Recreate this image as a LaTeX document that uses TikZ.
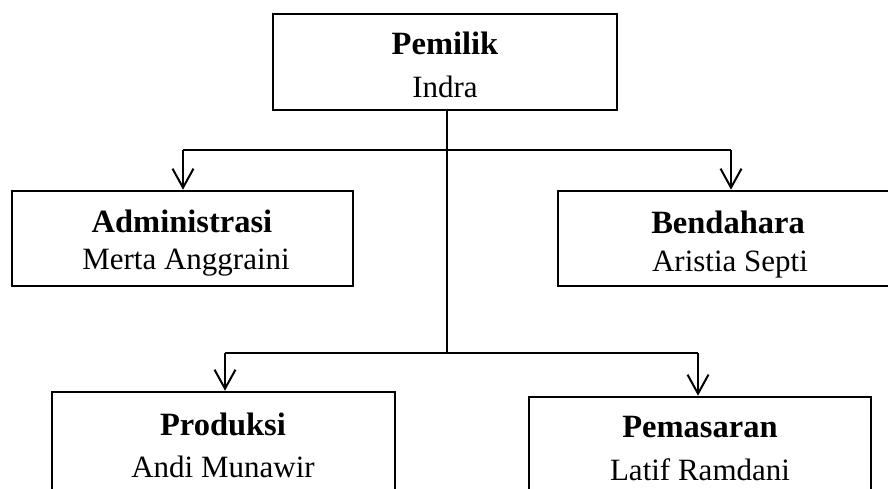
\documentclass[tikz,border=0pt]{standalone}
\usepackage{fontspec}
\setmainfont{Liberation Serif}
\usetikzlibrary{arrows.meta}
\tikzset{
  orgbox/.style={draw=black, line width=2.6pt, fill=none, inner sep=0pt},
  title/.style={anchor=base, font=\fontsize{32.5}{38}\selectfont\bfseries, inner sep=0pt},
  person/.style={anchor=base, font=\fontsize{31}{37}\selectfont, inner sep=0pt},
  conn/.style={draw=black, line width=2pt},
  arr/.style={conn, -{Straight Barb[length=19pt,width=21pt,line width=2pt]}}
}
\begin{document}
\begin{tikzpicture}[x=1pt,y=-1pt]
\useasboundingbox (0,0) rectangle (888,488);
\clip (0,0) rectangle (888,488);
% boxes
\node[orgbox, minimum width=344pt, minimum height=96pt] (own) at (445,62) {};
\node[orgbox, minimum width=341pt, minimum height=95pt] (adm) at (182.5,238.5) {};
\node[orgbox, minimum width=344pt, minimum height=95pt] (ben) at (730,238.5) {};
\node[orgbox, minimum width=343pt, minimum height=160pt] (pro) at (223.5,472) {};
\node[orgbox, minimum width=342pt, minimum height=160pt] (pem) at (700,477) {};
% texts
\node[title] (ownT) at (445,54) {Pemilik};
\node[person] (ownN) at (445,97) {Indra};
\node[title] (admT) at (182,232) {Administrasi};
\node[person] (admN) at (186,269) {Merta Anggraini};
\node[title] (benT) at (728,233) {Bendahara};
\node[person] (benN) at (730,271) {Aristia Septi};
\node[title] (proT) at (223,435) {Produksi};
\node[person] (proN) at (223,477) {Andi Munawir};
\node[title] (pemT) at (700,437) {Pemasaran};
\node[person] (pemN) at (700,480) {Latif Ramdani};
% junctions
\coordinate (top) at (447,110);
\coordinate (j1) at (447,150);
\coordinate (j2) at (447,353);
\coordinate (l1) at (183,150);
\coordinate (r1) at (731,150);
\coordinate (l2) at (225,353);
\coordinate (r2) at (698,353);
% connectors
\draw[conn] (top) -- (j2);
\draw[conn] (l1) -- (r1);
\draw[conn] (l2) -- (r2);
\draw[arr] (l1) -- (l1 |- adm.north);
\draw[arr] (r1) -- (r1 |- ben.north);
\draw[arr] (l2) -- (l2 |- pro.north);
\draw[arr] (r2) -- (r2 |- pem.north);
\end{tikzpicture}
\end{document}
